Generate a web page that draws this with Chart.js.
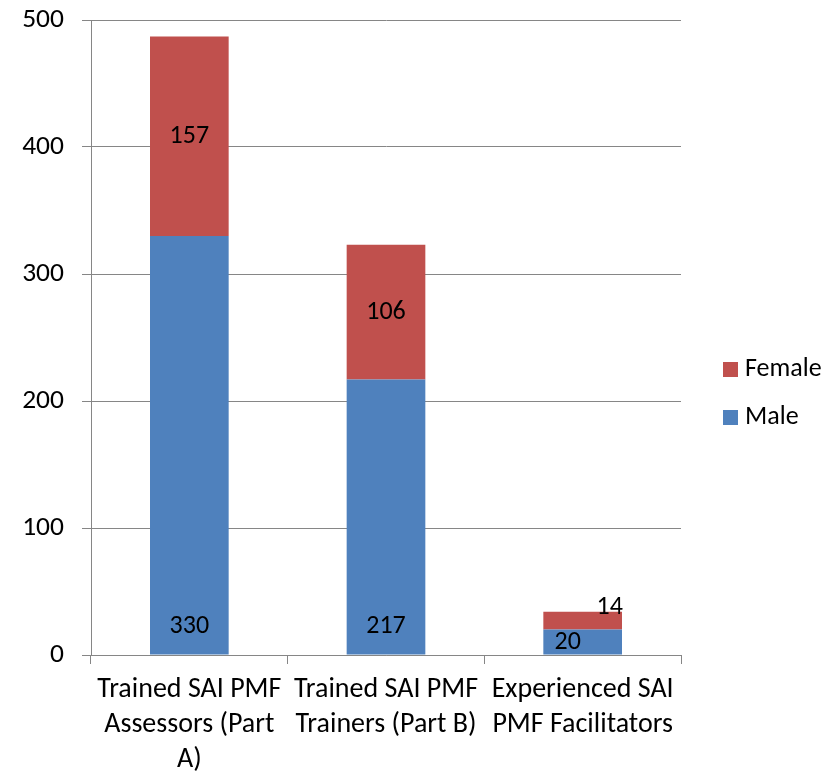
<!DOCTYPE html>
<html>
<head>
<meta charset="utf-8">
<script src="https://cdn.jsdelivr.net/npm/chart.js@4/dist/chart.umd.min.js"></script>
<style>
  html, body { margin: 0; padding: 0; background: #fff; }
  #wrap { width: 830px; height: 778px; }
</style>
</head>
<body>
<div id="wrap"><canvas id="chart" width="830" height="778"></canvas></div>
<script>
const categories = [
    ['Trained SAI PMF', 'Assessors (Part', 'A)'],
    ['Trained SAI PMF', 'Trainers (Part B)'],
    ['Experienced SAI', 'PMF Facilitators']
];
const maleValues = [330, 217, 20];
const femaleValues = [157, 106, 14];
const yTicks = [0, 100, 200, 300, 400, 500];

const FONT = 'Carlito, Calibri, "Open Sans", sans-serif';
const gridColor = '#868686';

// value labels drawn on the bars, roughly where Excel put them
const barLabels = {
    id: 'barLabels',
    afterDatasetsDraw(chart) {
        const ctx = chart.ctx;
        ctx.save();
        ctx.font = '26px ' + FONT;
        ctx.fillStyle = '#000';
        ctx.textAlign = 'center';
        ctx.textBaseline = 'middle';
        chart.data.datasets.forEach((ds, di) => {
            chart.getDatasetMeta(di).data.forEach((bar, i) => {
                const h = Math.abs(bar.base - bar.y);
                let x = bar.x;
                let y;
                if (di === 0) {
                    y = h > 60 ? bar.base - 28 : (bar.y + bar.base) / 2;
                    if (h <= 60) x -= 15;
                } else {
                    y = (bar.y + bar.base) / 2;
                    if (h < 40) { x += 27; y = bar.y - 4; }
                }
                ctx.fillText(ds.data[i], x, y);
            });
        });
        ctx.restore();
    }
};

// legend on the right, Female above Male
const sideLegend = {
    id: 'sideLegend',
    afterDraw(chart) {
        const ctx = chart.ctx;
        const items = [
            { text: 'Female', color: '#C0504D', y: 369 },
            { text: 'Male', color: '#4F81BD', y: 417 }
        ];
        ctx.save();
        ctx.font = '26px ' + FONT;
        ctx.textBaseline = 'middle';
        ctx.textAlign = 'left';
        items.forEach(it => {
            ctx.fillStyle = it.color;
            ctx.fillRect(723, it.y - 7, 15, 15);
            ctx.fillStyle = '#000';
            ctx.fillText(it.text, 745, it.y);
        });
        ctx.restore();
    }
};

new Chart(document.getElementById('chart').getContext('2d'), {
    type: 'bar',
    data: {
        labels: categories,
        datasets: [
            { label: 'Male', data: maleValues, backgroundColor: '#4F81BD' },
            { label: 'Female', data: femaleValues, backgroundColor: '#C0504D' }
        ]
    },
    options: {
        responsive: false,
        animation: false,
        devicePixelRatio: 1,
        layout: { padding: { left: 0, top: 20, right: 149, bottom: 0 } },
        datasets: { bar: { barPercentage: 1, categoryPercentage: 0.4 } },
        plugins: {
            legend: { display: false },
            tooltip: { enabled: false }
        },
        scales: {
            x: {
                stacked: true,
                grid: {
                    offset: true,
                    drawOnChartArea: false,
                    color: gridColor,
                    tickLength: 9
                },
                border: { color: gridColor, width: 1 },
                ticks: {
                    color: '#000',
                    font: { family: FONT, size: 28, lineHeight: 1.25 },
                    padding: 8,
                    maxRotation: 0,
                    autoSkip: false
                },
                afterFit(scale) {
                    scale.height = 123;
                    scale.paddingLeft = 0;
                    scale.paddingRight = 0;
                }
            },
            y: {
                stacked: true,
                min: 0,
                max: 500,
                afterBuildTicks(scale) { scale.ticks = yTicks.map(v => ({ value: v })); },
                grid: { color: gridColor, tickLength: 9 },
                border: { color: gridColor, width: 1 },
                ticks: {
                    color: '#000',
                    font: { family: FONT, size: 27.5 },
                    padding: 18
                },
                afterFit(scale) {
                    scale.width = 91;
                    scale.paddingTop = 0;
                    scale.paddingBottom = 0;
                }
            }
        }
    },
    plugins: [barLabels, sideLegend]
});
</script>
</body>
</html>
